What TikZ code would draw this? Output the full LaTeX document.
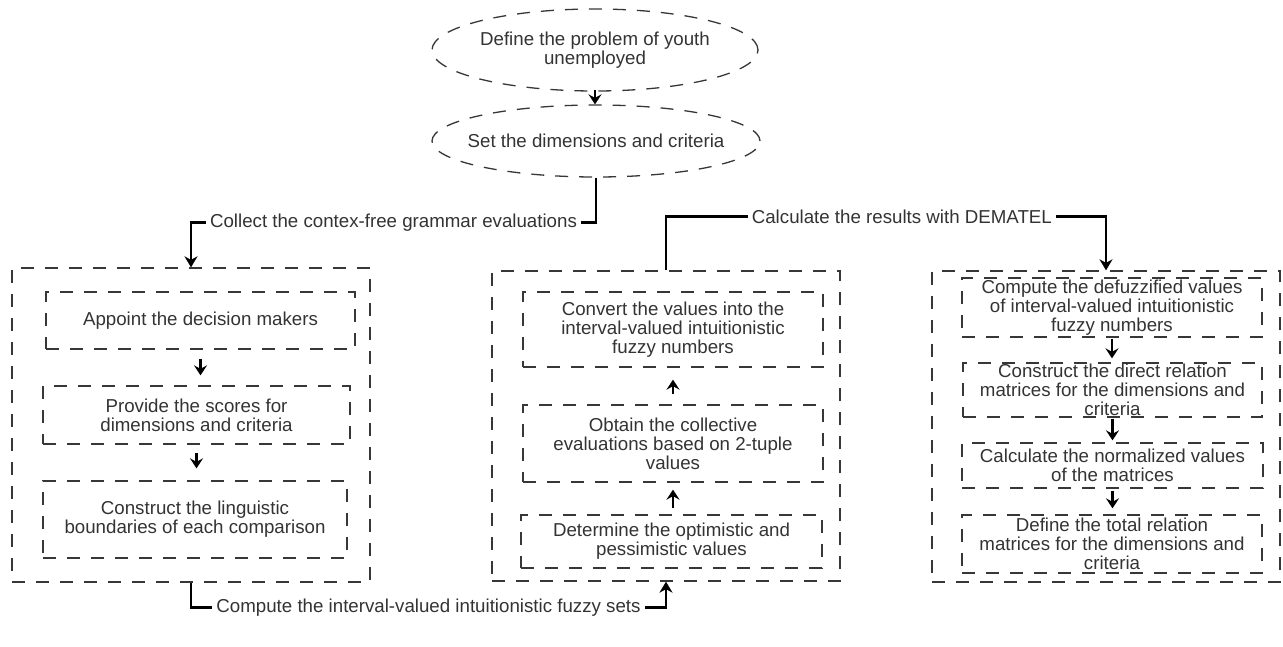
\documentclass[tikz,border=0pt]{standalone}
\usepackage{fontspec}
\setmainfont{Liberation Sans}
\usetikzlibrary{arrows.meta,shapes.geometric}
\definecolor{txt}{RGB}{51,51,51}
\definecolor{brd}{RGB}{55,55,55}
\begin{document}
\begin{tikzpicture}[x=1pt,y=-1pt,
  font=\fontsize{18.7}{19}\selectfont, text=txt,
  dbox/.style={draw=brd, line width=1.3pt, dash pattern=on 13pt off 11pt, rectangle, inner sep=0pt, align=center},
  dell/.style={draw=brd, line width=1.3pt, dash pattern=on 13pt off 11pt, ellipse, inner sep=0pt},
  arr/.style={draw=black, line width=2.4pt, -{Stealth[length=11pt,width=13pt,inset=3.5pt]}},
  sarr/.style={draw=black, line width=2.3pt, -{Stealth[length=10pt,width=13pt,inset=3.5pt]}},
  lbl/.style={fill=white, inner sep=4pt, text=txt}
]
\useasboundingbox (0,0) rectangle (1283,646);

% ellipses
\node[dell, minimum width=326, minimum height=82] (e1) at (595,50) {};
\node[align=center] (e1t) at (e1.center) {Define the problem of youth\\unemployed};
\node[dell, minimum width=328, minimum height=72] (e2) at (596,141) {};
\node (e2t) at (e2.center) {Set the dimensions and criteria};

% outer boxes
\node[dbox, minimum width=358, minimum height=314] (L) at (191,425) {};
\node[dbox, minimum width=348, minimum height=310] (M) at (666,426) {};
\node[dbox, minimum width=348, minimum height=311] (R) at (1106,426.5) {};

% left inner boxes
\node[dbox, minimum width=309, minimum height=57] (A) at (200.5,320.5) {Appoint the decision makers};
\node[dbox, minimum width=307, minimum height=58] (B) at (196.5,415) {Provide the scores for\\dimensions and criteria};
\node[dbox, minimum width=304, minimum height=77] (C) at (195,519.5) {Construct the linguistic\\boundaries of each comparison};

% middle inner boxes
\node[dbox, minimum width=300, minimum height=75] (D) at (673,329.5) {Convert the values into the\\interval-valued intuitionistic\\fuzzy numbers};
\node[dbox, minimum width=300, minimum height=77] (E) at (673,443.5) {Obtain the collective\\evaluations based on 2-tuple\\values};
\node[dbox, minimum width=301, minimum height=53] (F) at (671.5,541.5) {Determine the optimistic and\\pessimistic values};

% right inner boxes
\node[dbox, minimum width=300, minimum height=59] (G) at (1112,307.5) {Compute the defuzzified values\\of interval-valued intuitionistic\\fuzzy numbers};
\node[dbox, minimum width=299, minimum height=54] (H) at (1112.5,390) {Construct the direct relation\\matrices for the dimensions and\\criteria};
\node[dbox, minimum width=301, minimum height=45] (I) at (1112.5,465.5) {Calculate the normalized values\\of the matrices};
\node[dbox, minimum width=300, minimum height=58] (J) at (1112,544) {Define the total relation\\matrices for the dimensions and\\criteria};

% arrow between ellipses
\draw[sarr, shorten <=-2pt] (e1.south) -- (e1.south |- e2.north);

% connectors with labels
\draw[arr] (e2.south) -- ++(0,45) -| node[lbl, pos=0.25] {Collect the contex-free grammar evaluations} (L.north);
\draw[arr] (M.north) -- ++(0,-54) -| node[lbl, pos=0.268] {Calculate the results with DEMATEL} (R.north);
\draw[arr] (L.south) -- ++(0,25) -| node[lbl, pos=0.25] {Compute the interval-valued intuitionistic fuzzy sets} (M.south);

% inner arrows left
\draw[sarr, shorten <=9pt, shorten >=10pt] (A.south) -- (A.south |- B.north);
\draw[sarr, shorten <=8pt, shorten >=12pt] (B.south) -- (B.south |- C.north);

% inner arrows middle (upwards)
\draw[sarr, shorten <=6pt, shorten >=7pt] (F.north -| E.south) -- (E.south);
\draw[sarr, shorten <=10pt, shorten >=12pt] (E.north) -- (E.north |- D.south);

% inner arrows right
\draw[sarr, shorten <=1pt, shorten >=4pt] (G.south) -- (G.south |- H.north);
\draw[sarr, shorten <=1pt, shorten >=2pt] (H.south) -- (H.south |- I.north);
\draw[sarr, shorten <=2pt, shorten >=6pt] (I.south) -- (I.south |- J.north);
\end{tikzpicture}
\end{document}
